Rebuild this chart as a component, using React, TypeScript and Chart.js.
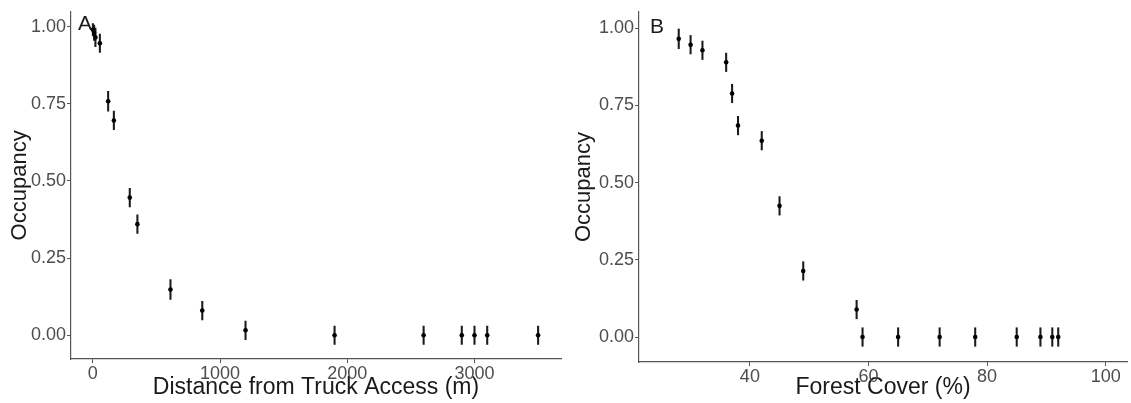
import React, { useEffect, useRef } from "react";
import { Chart, registerables } from "chart.js";

Chart.register(...registerables);

// Panel A: distance from truck access
const distA = [0, 10, 20, 55, 120, 165, 290, 350, 610, 860, 1200, 1900, 2600, 2900, 3000, 3100, 3500];
const occA = [0.99, 0.98, 0.965, 0.946, 0.758, 0.696, 0.446, 0.36, 0.148, 0.08, 0.016, 0, 0, 0, 0, 0, 0];
const errA = [0.02, 0.025, 0.03, 0.03, 0.032, 0.03, 0.03, 0.03, 0.032, 0.03, 0.03, 0.03, 0.03, 0.03, 0.03, 0.03, 0.03];
const xTicksA = [0, 1000, 2000, 3000];

// Panel B: forest cover
const coverB = [28, 30, 32, 36, 37, 38, 42, 45, 49, 58, 59, 65, 72, 78, 85, 89, 91, 92];
const occB = [0.966, 0.947, 0.929, 0.89, 0.789, 0.685, 0.636, 0.425, 0.214, 0.089, 0, 0, 0, 0, 0, 0, 0, 0];
const errB = [0.032, 0.03, 0.03, 0.03, 0.03, 0.03, 0.03, 0.03, 0.03, 0.03, 0.03, 0.03, 0.03, 0.03, 0.03, 0.03, 0.03, 0.03];
const xTicksB = [40, 60, 80, 100];

const yTicks = [0, 0.25, 0.5, 0.75, 1.0];

const FONT = "'Liberation Sans', Arial, Helvetica, sans-serif";
const AXIS = "#555555";
const TICKTXT = "#4d4d4d";

const panelLabel = {
  id: "panelLabel",
  afterDraw(chart: any, _args: any, opts: any) {
    const { ctx, chartArea } = chart;
    ctx.save();
    ctx.font = `21px ${FONT}`;
    ctx.fillStyle = "#1a1a1a";
    ctx.textAlign = "left";
    ctx.textBaseline = "alphabetic";
    ctx.fillText(opts.text, chartArea.left + opts.dx, chartArea.top + opts.dy);
    ctx.restore();
  },
};

function makeConfig(p: {
  xs: number[];
  ys: number[];
  errs: number[];
  xMin: number;
  xMax: number;
  yMin: number;
  yMax: number;
  xTicks: number[];
  xTitle: string;
  label: string;
  labelDx: number;
  labelDy: number;
  yWidth: number;
  xHeight: number;
  padTop: number;
  padRight: number;
  yTitlePad: number;
}): any {
  const pts = p.xs.map((x, i) => ({ x, y: p.ys[i] }));
  const bars = p.xs.map((x, i) => ({ x, y: [p.ys[i] - p.errs[i], p.ys[i] + p.errs[i]] }));
  return {
    type: "scatter",
    data: {
      datasets: [
        {
          type: "bar",
          data: bars,
          backgroundColor: "#1a1a1a",
          borderWidth: 0,
          barThickness: 1.4,
          grouped: false,
          order: 2,
        },
        {
          type: "scatter",
          data: pts,
          backgroundColor: "#000000",
          borderColor: "#000000",
          pointRadius: 2.3,
          borderWidth: 0,
          order: 1,
        },
      ],
    },
    options: {
      animation: false,
      responsive: false,
      devicePixelRatio: 1,
      layout: { padding: { left: 0, top: p.padTop, right: p.padRight, bottom: 0 } },
      plugins: {
        legend: { display: false },
        tooltip: { enabled: false },
        panelLabel: { text: p.label, dx: p.labelDx, dy: p.labelDy },
      },
      scales: {
        x: {
          type: "linear",
          min: p.xMin,
          max: p.xMax,
          offset: false,
          afterBuildTicks: (s: any) => {
            s.ticks = p.xTicks.map((v) => ({ value: v }));
          },
          afterFit: (s: any) => {
            s.height = p.xHeight;
          },
          ticks: {
            color: TICKTXT,
            font: { family: FONT, size: 18 },
            padding: 0,
            maxRotation: 0,
            callback: (v: any) => String(v),
          },
          grid: {
            display: true,
            offset: false,
            drawOnChartArea: false,
            drawTicks: true,
            tickLength: 4,
            color: AXIS,
            lineWidth: 1,
          },
          border: { display: true, color: AXIS, width: 1.2 },
          title: {
            display: true,
            text: p.xTitle,
            color: "#1a1a1a",
            font: { family: FONT, size: 23 },
            padding: { top: 0, bottom: 2 },
          },
        },
        y: {
          type: "linear",
          min: p.yMin,
          max: p.yMax,
          afterBuildTicks: (s: any) => {
            s.ticks = yTicks.map((v) => ({ value: v }));
          },
          afterFit: (s: any) => {
            s.width = p.yWidth;
          },
          ticks: {
            color: TICKTXT,
            font: { family: FONT, size: 18 },
            padding: 1,
            callback: (v: any) => Number(v).toFixed(2),
          },
          grid: {
            display: true,
            offset: false,
            drawOnChartArea: false,
            drawTicks: true,
            tickLength: 4,
            color: AXIS,
            lineWidth: 1,
          },
          border: { display: true, color: AXIS, width: 1.2 },
          title: {
            display: true,
            text: "Occupancy",
            color: "#1a1a1a",
            font: { family: FONT, size: 22 },
            padding: { top: p.yTitlePad, bottom: 0 },
          },
        },
      },
    },
    plugins: [panelLabel],
  };
}

function Panel(props: { cfg: any; width: number; left: number }) {
  const ref = useRef<HTMLCanvasElement | null>(null);
  useEffect(() => {
    if (!ref.current) return;
    const chart = new Chart(ref.current, props.cfg);
    return () => chart.destroy();
  }, []);
  return (
    <canvas
      ref={ref}
      width={props.width}
      height={403}
      style={{ position: "absolute", left: props.left, top: 0, width: props.width, height: 403 }}
    />
  );
}

export default function App() {
  const cfgA = makeConfig({
    xs: distA,
    ys: occA,
    errs: errA,
    xMin: -172,
    xMax: 3680,
    yMin: -0.077,
    yMax: 1.048,
    xTicks: xTicksA,
    xTitle: "Distance from Truck Access (m)",
    label: "A",
    labelDx: 7,
    labelDy: 18,
    yWidth: 71,
    xHeight: 44,
    padTop: 10,
    padRight: 2,
    yTitlePad: 7,
  });
  const cfgB = makeConfig({
    xs: coverB,
    ys: occB,
    errs: errB,
    xMin: 21.3,
    xMax: 103.6,
    yMin: -0.081,
    yMax: 1.053,
    xTicks: xTicksB,
    xTitle: "Forest Cover (%)",
    label: "B",
    labelDx: 11,
    labelDy: 21,
    yWidth: 74,
    xHeight: 41,
    padTop: 12,
    padRight: 1,
    yTitlePad: 6,
  });
  return (
    <div style={{ position: "fixed", left: 0, top: 0, width: 1131, height: 403, background: "#ffffff" }}>
      <Panel cfg={cfgA} width={565} left={0} />
      <Panel cfg={cfgB} width={566} left={565} />
    </div>
  );
}
